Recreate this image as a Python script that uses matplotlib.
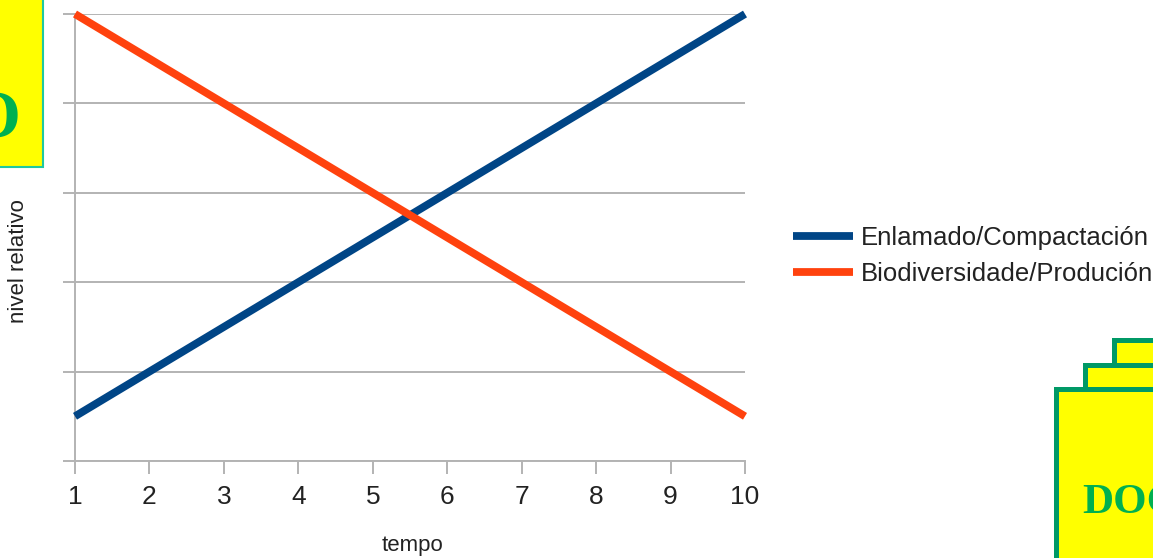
"""
Nivel relativo vs tempo (Enlamado / Biodiversidade)
"""
import matplotlib
matplotlib.use('Agg')
import matplotlib.pyplot as plt
from matplotlib.patches import Rectangle

plt.rcParams['font.family'] = ['Liberation Sans', 'DejaVu Sans']

tempo = [1, 2, 3, 4, 5, 6, 7, 8, 9, 10]
enlamado = [0.5, 1.0, 1.5, 2.0, 2.5, 3.0, 3.5, 4.0, 4.5, 5.0]
biodiversidade = [5.0, 4.5, 4.0, 3.5, 3.0, 2.5, 2.0, 1.5, 1.0, 0.5]
y_ticks = [0, 1, 2, 3, 4, 5]

W, H = 1153, 558
fig = plt.figure(figsize=(W / 100, H / 100), dpi=100)

def px(x, y, w, h):
    # pixel box (top-left origin) -> figure fraction
    return (x / W, 1 - (y + h) / H, w / W, h / H)

grey = '#b3b3b3'
txt = '#222222'

#########################
# decorative boxes
#########################
x0, y0, w0, h0 = px(-5, -5, 48, 172)
fig.patches.append(Rectangle((x0, y0), w0, h0, transform=fig.transFigure,
                             facecolor='#ffff00', edgecolor='#1fc8a0', lw=1.5, zorder=0))
fig.text(21 / W, 1 - 121 / H, 'O', ha='right', va='center', color='#00b050',
         fontsize=49, fontweight='bold', family='Liberation Serif')

for bx, by in [(1111, 337), (1082, 362), (1053, 386)]:
    x0, y0, w0, h0 = px(bx + 2.5, by + 2.5, 200, 300)
    fig.patches.append(Rectangle((x0, y0), w0, h0, transform=fig.transFigure,
                                 facecolor='#ffff00', edgecolor='#009966', lw=3.6, zorder=0))
fig.text(1082 / W, 1 - 503 / H, 'DOC', ha='left', va='center', color='#00b050',
         fontsize=31, fontweight='bold', family='Liberation Serif')

#########################
# chart
#########################
ax = fig.add_axes(px(75, 14, 670, 447))
ax.plot(tempo, enlamado, color='#004586', lw=5.6, solid_capstyle='butt',
        clip_on=False, label='Enlamado/Compactación', zorder=3)
ax.plot(tempo, biodiversidade, color='#ff420e', lw=5.6, solid_capstyle='butt',
        clip_on=False, label='Biodiversidade/Produción', zorder=3)

ax.set_xlim(1, 10)
ax.set_ylim(0, 5)
ax.set_xticks(tempo)
ax.set_yticks(y_ticks)
ax.set_yticklabels([])
ax.grid(axis='y', color=grey, lw=1.4)
ax.set_axisbelow(True)
for s in ['top', 'right']:
    ax.spines[s].set_visible(False)
for s in ['left', 'bottom']:
    ax.spines[s].set_color(grey)
    ax.spines[s].set_linewidth(1.4)
ax.tick_params(axis='x', length=9, width=1.4, color=grey, pad=8,
               labelsize=19, labelcolor=txt)
ax.tick_params(axis='y', length=9, width=1.4, color=grey)

# axis titles
fig.text(412 / W, 1 - 545 / H, 'tempo', ha='center', va='center',
         fontsize=16, color=txt)
fig.text(19 / W, 1 - 261 / H, 'nivel relativo', ha='center', va='center',
         rotation=90, fontsize=16, color=txt)

leg = ax.legend(loc='center left', bbox_to_anchor=(793 / W, 1 - 256 / H),
                bbox_transform=fig.transFigure, frameon=False, borderpad=0,
                borderaxespad=0, fontsize=18.5, handlelength=2.35,
                handletextpad=0.28, labelspacing=0.45)
for t in leg.get_texts():
    t.set_color(txt)

plt.savefig('out.png', dpi=100)
